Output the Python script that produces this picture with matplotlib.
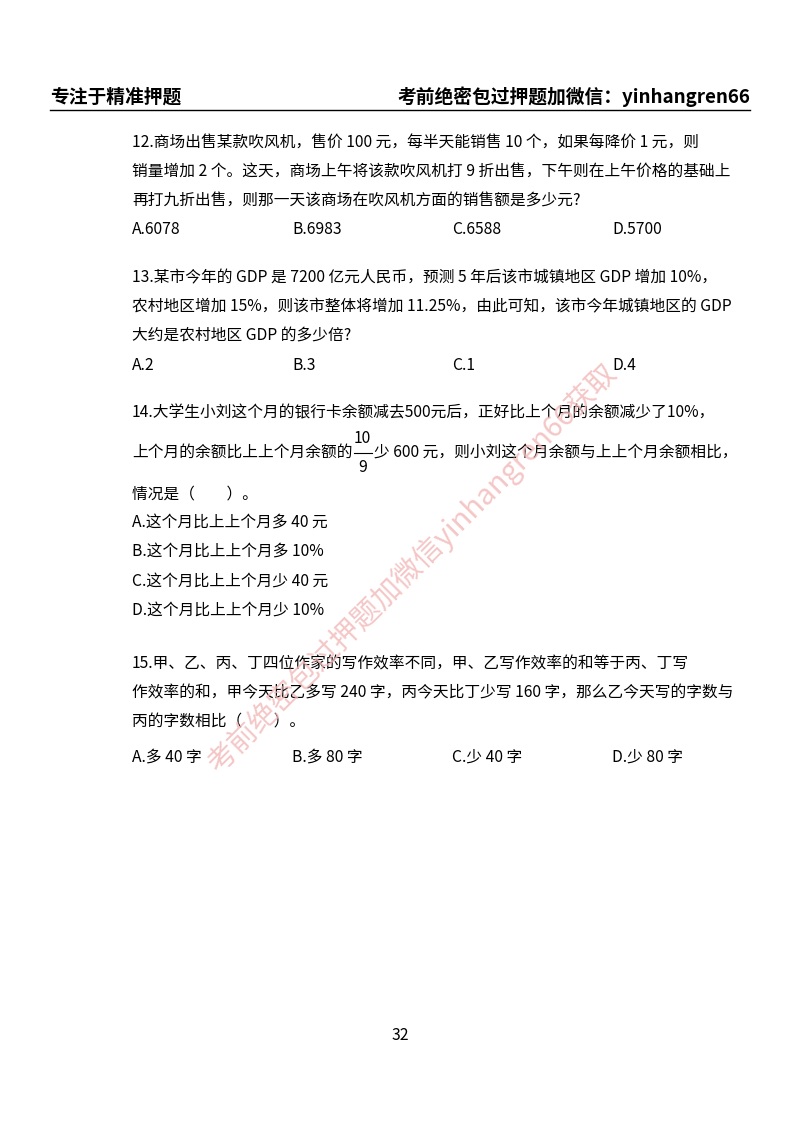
import matplotlib
matplotlib.use("Agg")
import matplotlib.pyplot as plt

plt.rcParams['font.family'] = ['Noto Sans CJK SC', 'DejaVu Sans']

W, H = 800, 1124

header_left = "专注于精准押题"
header_right = "考前绝密包过押题加微信：yinhangren66"
watermark = "考前绝密包过押题加微信yinhangren66获取"
page_no = "32"

# (y pixel, x pixel, text)
lines = [
    (143, 132, "12.商场出售某款吹风机，售价 100 元，每半天能销售 10 个，如果每降价 1 元，则"),
    (172, 132, "销量增加 2 个。这天，商场上午将该款吹风机打 9 折出售，下午则在上午价格的基础上"),
    (201, 132, "再打九折出售，则那一天该商场在吹风机方面的销售额是多少元?"),
    (278, 132, "13.某市今年的 GDP 是 7200 亿元人民币，预测 5 年后该市城镇地区 GDP 增加 10%，"),
    (307, 132, "农村地区增加 15%，则该市整体将增加 11.25%，由此可知，该市今年城镇地区的 GDP"),
    (336, 132, "大约是农村地区 GDP 的多少倍?"),
    (413, 132, "14.大学生小刘这个月的银行卡余额减去500元后，正好比上个月的余额减少了10%，"),
    (494, 132, "情况是（　　）。"),
    (523, 132, "A.这个月比上上个月多 40 元"),
    (552, 132, "B.这个月比上上个月多 10%"),
    (581, 132, "C.这个月比上上个月少 40 元"),
    (610, 132, "D.这个月比上上个月少 10%"),
    (664, 132, "15.甲、乙、丙、丁四位作家的写作效率不同，甲、乙写作效率的和等于丙、丁写"),
    (693, 132, "作效率的和，甲今天比乙多写 240 字，丙今天比丁少写 160 字，那么乙今天写的字数与"),
    (722, 132, "丙的字数相比（　　）。"),
]
frac_before = "上个月的余额比上上个月余额的"
frac_num, frac_den = "10", "9"
frac_after = "少 600 元，则小刘这个月余额与上上个月余额相比，"

option_x = [132, 292, 452, 612]
options = {
    230: ["A.6078", "B.6983", "C.6588", "D.5700"],
    365: ["A.2", "B.3", "C.1", "D.4"],
    757: ["A.多 40 字", "B.多 80 字", "C.少 40 字", "D.少 80 字"],
}

fig = plt.figure(figsize=(8, 11.24), dpi=100)
fig.patch.set_facecolor("white")


def px(x, y):
    return x / W, 1 - y / H


fs = 11.3
fig.text(*px(50, 97), header_left, fontsize=13.5, fontweight="bold", va="center", ha="left")
fig.text(*px(750, 97), header_right, fontsize=13.5, fontweight="bold", va="center", ha="right")
fig.add_artist(plt.Line2D([50 / W, 750 / W], [1 - 110 / H] * 2, color="black", lw=1))

for y, x, t in lines:
    fig.text(*px(x, y), t, fontsize=fs, va="center", ha="left")

for y, opts in options.items():
    for x, t in zip(option_x, opts):
        fig.text(*px(x, y), t, fontsize=fs, va="center", ha="left")

# line with fraction 10/9
renderer = fig.canvas.get_renderer()
t1 = fig.text(*px(132, 452), frac_before, fontsize=fs, va="center", ha="left")
x_end = t1.get_window_extent(renderer).x1
fx = x_end + 10
fig.text(fx / W, 1 - 439 / H, frac_num, fontsize=fs, va="center", ha="center")
fig.text(fx / W, 1 - 467 / H, frac_den, fontsize=fs, va="center", ha="center")
fig.add_artist(plt.Line2D([(fx - 9) / W, (fx + 9) / W], [1 - 453 / H] * 2, color="black", lw=0.8))
fig.text((fx + 12) / W, 1 - 452 / H, frac_after, fontsize=fs, va="center", ha="left")

fig.text(*px(400, 1035), page_no, fontsize=fs, va="center", ha="center")

fig.text(*px(412, 568), watermark, fontsize=21, color="#f2b8b8", alpha=0.8,
         rotation=45, va="center", ha="center")

fig.savefig("out.png", dpi=100)
